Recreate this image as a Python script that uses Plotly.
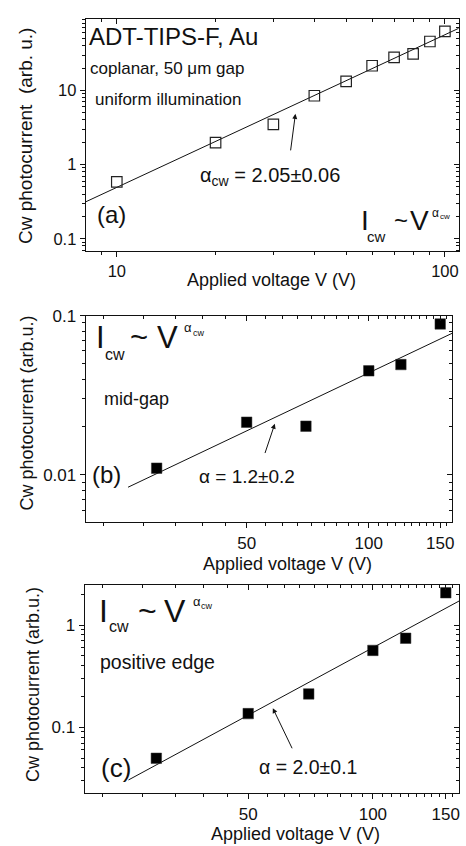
import plotly.graph_objects as go

# ---------------- data ----------------
V_a = [10, 20, 30, 40, 50, 60, 70, 80, 90, 100]
I_a = [0.586, 1.98, 3.48, 8.47, 13.2, 21.5, 27.8, 31.1, 45.6, 62.3]
fit_a_V = [8.03, 110]
fit_a_I = [0.314, 68.5]

V_b = [30, 50, 70, 100, 120, 150]
I_b = [0.0110, 0.0214, 0.0202, 0.0450, 0.0493, 0.0887]
fit_b_V = [25.5, 160.6]
fit_b_I = [0.00835, 0.0776]

V_c = [30, 50, 70, 100, 120, 150]
I_c = [0.0497, 0.136, 0.212, 0.565, 0.743, 2.07]
fit_c_V = [25.7, 161.5]
fit_c_I = [0.0305, 1.72]

# tick values / labels
xt_a = [10, 100]
xt_a_text = ["10", "100"]
yt_a = [0.1, 1, 10]
yt_a_text = ["0.1", "1", "10"]
xt_bc = [50, 100, 150]
xt_bc_text = ["50", "100", "150"]
yt_b = [0.01, 0.1]
yt_b_text = ["0.01", "0.1"]
yt_c = [0.1, 1]
yt_c_text = ["0.1", "1"]

xminor_a = [9, 20, 30, 40, 50, 60, 70, 80, 90]
yminor_a = [0.07, 0.08, 0.09, 0.2, 0.3, 0.4, 0.5, 0.6, 0.7, 0.8, 0.9,
            2, 3, 4, 5, 6, 7, 8, 9, 20, 30, 40, 50, 60, 70, 80, 90]
xminor_bc = [round(k * 50 / 9, 3) for k in range(4, 29) if k % 9]
yminor_b = [0.006, 0.007, 0.008, 0.009, 0.02, 0.03, 0.04, 0.05, 0.06, 0.07, 0.08, 0.09]
yminor_c = [0.03, 0.04, 0.05, 0.06, 0.07, 0.08, 0.09,
            0.2, 0.3, 0.4, 0.5, 0.6, 0.7, 0.8, 0.9, 2]

# ---------------- layout geometry (pixels) ----------------
W, H = 466, 846
FONT = "Arial, 'Liberation Sans', Helvetica, sans-serif"
INK = "#111111"


def px(x):
    return x / W


def py(y):
    return 1 - y / H


panels = {
    "a": dict(xd=(86, 461), yd=(10, 245), xr=[0.905, 2.043], yr=[-1.17, 1.964],
              xt=xt_a, xtt=xt_a_text, yt=yt_a, ytt=yt_a_text,
              xm=xminor_a, ym=yminor_a, tf=16.5),
    "b": dict(xd=(86, 454.3), yd=(310, 519), xr=[1.302, 2.206], yr=[-2.30, -1.0],
              xt=xt_bc, xtt=xt_bc_text, yt=yt_b, ytt=yt_b_text,
              xm=xminor_bc, ym=yminor_b, tf=17),
    "c": dict(xd=(85, 461), yd=(581.7, 792.7), xr=[1.304, 2.208], yr=[-1.646, 0.397],
              xt=xt_bc, xtt=xt_bc_text, yt=yt_c, ytt=yt_c_text,
              xm=xminor_bc, ym=yminor_c, tf=17),
}

fig = go.Figure()

# data traces
fig.add_trace(go.Scatter(x=fit_a_V, y=fit_a_I, mode="lines", line=dict(color=INK, width=1),
                         xaxis="x", yaxis="y", showlegend=False))
fig.add_trace(go.Scatter(x=V_a, y=I_a, mode="markers",
                         marker=dict(symbol="square-open", size=10.5, color="#222",
                                     line=dict(width=1.2, color="#222")),
                         xaxis="x", yaxis="y", showlegend=False))

fig.add_trace(go.Scatter(x=fit_b_V, y=fit_b_I, mode="lines", line=dict(color=INK, width=1),
                         xaxis="x2", yaxis="y2", showlegend=False))
fig.add_trace(go.Scatter(x=V_b, y=I_b, mode="markers",
                         marker=dict(symbol="square", size=10.5, color="black",
                                     line=dict(width=0.5, color="#333")),
                         xaxis="x2", yaxis="y2", showlegend=False))

fig.add_trace(go.Scatter(x=fit_c_V, y=fit_c_I, mode="lines", line=dict(color=INK, width=1),
                         xaxis="x3", yaxis="y3", showlegend=False))
fig.add_trace(go.Scatter(x=V_c, y=I_c, mode="markers",
                         marker=dict(symbol="square", size=10.5, color="black",
                                     line=dict(width=0.5, color="#333")),
                         xaxis="x3", yaxis="y3", showlegend=False))

layout = dict(width=W, height=H, autosize=False,
              margin=dict(l=0, r=0, t=0, b=0),
              paper_bgcolor="white", plot_bgcolor="white",
              showlegend=False, font=dict(family=FONT, color=INK))

for i, key in enumerate(["a", "b", "c"]):
    p = panels[key]
    n = i + 1
    o = i + 4
    xs = "" if n == 1 else str(n)
    xdom = [px(p["xd"][0]), px(p["xd"][1])]
    ydom = [py(p["yd"][1]), py(p["yd"][0])]
    minor_x_out = dict(tickmode="array", tickvals=p["xm"], ticks="outside", ticklen=3,
                       tickwidth=1, tickcolor=INK, showgrid=False)
    minor_y_out = dict(tickmode="array", tickvals=p["ym"], ticks="outside", ticklen=3,
                       tickwidth=1, tickcolor=INK, showgrid=False)
    minor_x_in = dict(minor_x_out, ticks="inside")
    minor_y_in = dict(minor_y_out, ticks="inside")
    layout["xaxis" + xs] = dict(
        domain=xdom, anchor="y" + xs, type="log", range=p["xr"],
        tickmode="array", tickvals=p["xt"], ticktext=p["xtt"],
        ticks="outside", ticklen=5, tickwidth=1, tickcolor=INK,
        showline=True, linecolor=INK, linewidth=1, mirror=True,
        showgrid=False, zeroline=False, minor=minor_x_out,
        tickfont=dict(family=FONT, size=p["tf"], color=INK))
    layout["yaxis" + xs] = dict(
        domain=ydom, anchor="x" + xs, type="log", range=p["yr"],
        tickmode="array", tickvals=p["yt"], ticktext=p["ytt"],
        ticks="outside", ticklen=5, tickwidth=1, tickcolor=INK,
        showline=True, linecolor=INK, linewidth=1, mirror=True,
        showgrid=False, zeroline=False, minor=minor_y_out,
        tickfont=dict(family=FONT, size=p["tf"], color=INK))
    # overlay axes for inward ticks on top/right
    layout["xaxis" + str(o)] = dict(
        overlaying="x" + xs, side="top", anchor="y" + str(o), type="log", range=p["xr"],
        tickmode="array", tickvals=p["xt"], ticks="inside", ticklen=5, tickwidth=1,
        tickcolor=INK, showticklabels=False, showline=False, showgrid=False,
        zeroline=False, minor=minor_x_in)
    layout["yaxis" + str(o)] = dict(
        overlaying="y" + xs, side="right", anchor="x" + str(o), type="log", range=p["yr"],
        tickmode="array", tickvals=p["yt"], ticks="inside", ticklen=5, tickwidth=1,
        tickcolor=INK, showticklabels=False, showline=False, showgrid=False,
        zeroline=False, minor=minor_y_in)
    fig.add_trace(go.Scatter(x=[None], y=[None], mode="markers", xaxis="x" + str(o),
                             yaxis="y" + str(o), showlegend=False, hoverinfo="skip"))

fig.update_layout(**layout)

ann = []


def txt(x, y, s, size, anchor="left", angle=0):
    ann.append(dict(x=px(x), y=py(y), xref="paper", yref="paper", text=s,
                    showarrow=False, xanchor=anchor, yanchor="middle",
                    textangle=angle, font=dict(family=FONT, size=size, color=INK)))


def arrow(hx, hy, tx, ty):
    ann.append(dict(x=px(hx), y=py(hy), xref="paper", yref="paper", text="",
                    showarrow=True, ax=tx - hx, ay=ty - hy, axref="pixel", ayref="pixel",
                    arrowhead=2, arrowsize=1, arrowwidth=1, arrowcolor=INK))


# ---- panel (a) ----
txt(87, 27.7, "ADT-TIPS-F, Au", 24)
txt(88, 60.6, "coplanar, 50 μm gap", 17)
txt(93, 91.2, "uniform illumination", 17)
txt(199, 169.5, "α<sub>cw</sub> = 2.05±0.06", 20)
txt(95, 208, "(a)", 24)
arrow(296.7, 106, 291.7, 144)
txt(360.5, 213.3, "I", 28)
txt(367, 229.8, "cw", 15)
txt(394, 213.3, "~", 24)
txt(409.5, 213.3, "V", 28)
txt(432, 205.8, "α", 12)
txt(440, 210.2, "cw", 8)
txt(273, 274, "Applied voltage V (V)", 18, anchor="center")
txt(25, 128.5, "Cw photocurrent \u00a0(arb. u.)", 19, anchor="center", angle=-90)

# ---- panel (b) ----
txt(94, 332.5, "I", 31)
txt(103.5, 349.5, "cw", 16)
txt(128.5, 332.5, "~", 31)
txt(156, 332.5, "V", 31)
txt(183, 322.2, "α", 13)
txt(191.5, 327, "cw", 9)
txt(102, 393.8, "mid-gap", 18)
txt(90, 470, "(b)", 24)
txt(198, 472.7, "α = 1.2±0.2", 19)
arrow(276, 419.3, 265.7, 450)
txt(289, 561, "Applied voltage V (V)", 18, anchor="center")
txt(27, 408, "Cw photocurrent (arb.u.)", 18, anchor="center", angle=-90)

# ---- panel (c) ----
txt(97.5, 608.9, "I", 32)
txt(107.5, 624.4, "cw", 16)
txt(136.5, 608.9, "~", 32)
txt(162.5, 608.9, "V", 32)
txt(191.5, 598.8, "α", 13)
txt(200, 603.6, "cw", 9)
txt(98, 659.9, "positive edge", 19.5)
txt(99, 767, "(c)", 26)
txt(258, 766.5, "α = 2.0±0.1", 19.5)
arrow(274, 706.7, 294, 748.3)
txt(297, 834, "Applied voltage V (V)", 18, anchor="center")
txt(33, 682.5, "Cw photocurrent (arb.u.)", 18, anchor="center", angle=-90)

fig.update_layout(annotations=ann)

fig.write_html(
    "out.html",
    config={"displayModeBar": False},
    post_script="document.body.style.margin='0';document.body.style.padding='0';"
                "document.body.style.overflow='hidden';",
)
